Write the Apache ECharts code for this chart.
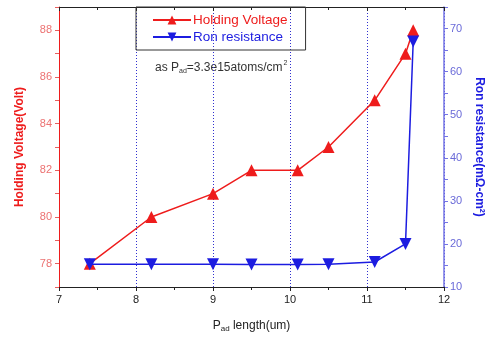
<!DOCTYPE html>
<html>
<head>
<meta charset="utf-8">
<script src="https://cdn.jsdelivr.net/npm/echarts@6/dist/echarts.min.js"></script>
<style>
  html, body { margin: 0; padding: 0; background: #fff; }
  #chart { width: 495px; height: 338px; }
</style>
</head>
<body>
<div id="chart"></div>
<script>
// P_ad length (um) for each measured device
const padLength = [7.4, 8.2, 9.0, 9.5, 10.1, 10.5, 11.1, 11.5, 11.6];
// Holding voltage (Volt)
const holdingVoltage = [78, 80, 81, 82, 82, 83, 85, 87, 88];
// On-resistance (mΩ-cm²)
const ronResistance = [15.3, 15.3, 15.3, 15.2, 15.2, 15.3, 15.8, 20, 67];

const RED = '#ee1c1c';
const BLUE = '#1c1ce0';
const FONT = 'Liberation Sans, Arial, sans-serif';

const pairs = (xs, ys) => xs.map((x, i) => [x, ys[i]]);

const chart = echarts.init(document.getElementById('chart'));
chart.setOption({
  animation: false,
  backgroundColor: '#fff',
  textStyle: { fontFamily: FONT },
  grid: { left: 59, right: 51, top: 7, bottom: 49, containLabel: false },
  legend: {
    left: 136, top: 7,
    orient: 'vertical',
    itemWidth: 38, itemHeight: 11, itemGap: 3,
    padding: [6, 18, 6, 16],
    borderColor: '#333', borderWidth: 1,
    textStyle: { fontSize: 13.5, fontFamily: FONT, padding: [0, 0, 0, -3] },
    data: [
      { name: 'Holding Voltage', textStyle: { color: RED } },
      { name: 'Ron resistance', textStyle: { color: BLUE } }
    ]
  },
  xAxis: [{
    type: 'value', min: 7, max: 12, interval: 1,
    name: '{p|P}{s|ad}{p| length(um)}',
    nameLocation: 'middle', nameGap: 32,
    nameTextStyle: {
      rich: {
        p: { fontSize: 12, color: '#222', fontFamily: FONT },
        s: { fontSize: 8, color: '#222', fontFamily: FONT, verticalAlign: 'bottom', padding: [6, 0, 0, 0] }
      }
    },
    axisLine: { lineStyle: { color: '#222', width: 1 } },
    axisTick: { inside: false, length: 4, lineStyle: { color: '#222' } },
    minorTick: { show: true, splitNumber: 2, length: 3, lineStyle: { color: '#222' } },
    axisLabel: { color: '#222', fontSize: 11, margin: 7 },
    splitLine: { show: true, lineStyle: { color: '#3030d0', type: [1, 2], width: 1 } }
  }, {
    type: 'value', min: 7, max: 12, interval: 1, position: 'top',
    axisLine: { show: true, lineStyle: { color: '#222', width: 1 } },
    axisTick: { show: true, inside: true, length: 4, lineStyle: { color: '#222' } },
    minorTick: { show: true, splitNumber: 2, length: 3, lineStyle: { color: '#222' } },
    axisLabel: { show: false },
    splitLine: { show: false }
  }],
  yAxis: [{
    type: 'value', min: 77, max: 89, interval: 1,
    name: 'Holding Voltage(Volt)',
    nameLocation: 'middle', nameGap: 33,
    nameTextStyle: { color: RED, fontSize: 12, fontWeight: 'bold', fontFamily: FONT },
    axisLine: { show: true, lineStyle: { color: RED, width: 1 } },
    axisTick: { show: true, length: 4, lineStyle: { color: '#e86060' } },
    axisLabel: {
      color: '#ec7272', fontSize: 11, margin: 7,
      formatter: v => (v % 2 === 0 ? String(v) : '')
    },
    splitLine: { show: false }
  }, {
    type: 'value', min: 10, max: 75, interval: 5, position: 'right',
    name: 'Ron resistance(mΩ-cm²)',
    nameLocation: 'middle', nameGap: 26, nameRotate: -90,
    nameTextStyle: { color: BLUE, fontSize: 12, fontWeight: 'bold', fontFamily: FONT },
    axisLine: { show: true, lineStyle: { color: '#7474e4', width: 1.5 } },
    axisTick: { show: true, length: 4, lineStyle: { color: '#7474e4' } },
    axisLabel: {
      color: '#6a6ad8', fontSize: 11, margin: 6,
      formatter: v => (v % 10 === 0 ? String(v) : '')
    },
    splitLine: { show: false }
  }],
  graphic: [{
    type: 'text', left: 155, top: 60,
    style: {
      text: '{t|as P}{s|ad}{t|=3.3e15atoms/cm}{u|2}',
      rich: {
        t: { fontSize: 12, fill: '#333', fontFamily: FONT },
        s: { fontSize: 7, fill: '#333', fontFamily: FONT, padding: [8, 0, 0, 0] },
        u: { fontSize: 7, fill: '#333', fontFamily: FONT, padding: [0, 0, 8, 1] }
      }
    }
  }],
  series: [{
    name: 'Holding Voltage', type: 'line',
    xAxisIndex: 0, yAxisIndex: 0,
    data: pairs(padLength, holdingVoltage),
    symbol: 'triangle', symbolSize: 12,
    itemStyle: { color: RED },
    lineStyle: { color: RED, width: 1.5 },
    z: 3
  }, {
    name: 'Ron resistance', type: 'line',
    xAxisIndex: 0, yAxisIndex: 1,
    data: pairs(padLength, ronResistance),
    symbol: 'triangle', symbolRotate: 180, symbolSize: 12,
    itemStyle: { color: BLUE },
    lineStyle: { color: BLUE, width: 1.5 },
    z: 4
  }]
});
</script>
</body>
</html>
